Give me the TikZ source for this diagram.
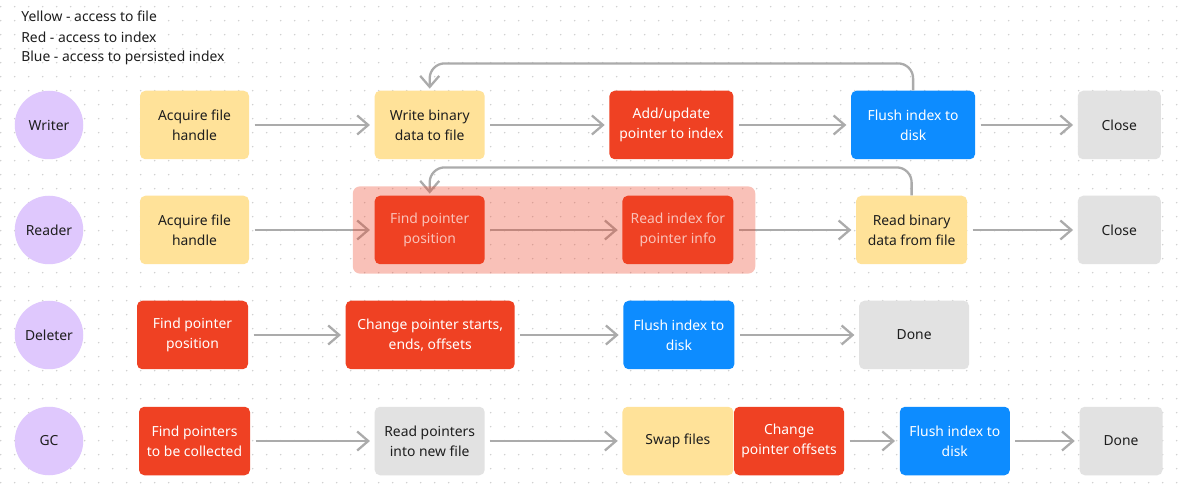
\documentclass[tikz,border=0pt]{standalone}
\usepackage{fontspec}
\setmainfont{Noto Sans}
\usetikzlibrary{arrows.meta,positioning,fit}
\definecolor{Paper}{HTML}{FFFFFF}
\definecolor{Dot}{HTML}{CDCDCD}
\definecolor{Ink}{HTML}{1E1E1E}
\definecolor{Wire}{HTML}{ABABAB}
\definecolor{Sand}{HTML}{FFE299}
\definecolor{Tomato}{HTML}{EF4123}
\definecolor{Sky}{HTML}{0D8CFF}
\definecolor{Ash}{HTML}{E2E2E2}
\definecolor{Lilac}{HTML}{DFC8FD}
\tikzset{
  stepbox/.style={rounded corners=3pt,minimum height=1.37cm,minimum width=2.2cm,align=center,font=\fontsize{7.9}{11.6}\selectfont,text=Ink,inner xsep=2pt},
  filebox/.style={stepbox,fill=Sand},
  indexbox/.style={stepbox,fill=Tomato,text=white},
  diskbox/.style={stepbox,fill=Sky,text=white},
  endbox/.style={stepbox,fill=Ash},
  actor/.style={circle,fill=Lilac,minimum size=1.37cm,inner sep=0pt,font=\fontsize{7.9}{11.6}\selectfont,text=Ink},
  line/.style={-{Straight Barb[length=2.2mm,width=3.8mm]},draw=Wire,line width=1.3pt,shorten <=3pt,shorten >=2.5pt},
  legend/.style={anchor=west,font=\fontsize{7.9}{11}\selectfont,text=Ink,inner sep=0pt}
}

\begin{document}
\begin{tikzpicture}
  \useasboundingbox[fill=Paper] (0,0) rectangle (23.72,-9.82);
  % dotted canvas
  \foreach \i in {0,...,84}
    \foreach \j in {0,...,34}
      \fill[Dot] (0.014+\i*0.28,-0.134-\j*0.28) circle (0.016);

  \node[legend] (key1) at (0.42,-0.32) {Yellow - access to file};
  \node[legend] (key2) at (0.42,-0.74) {Red - access to index};
  \node[legend] (key3) at (0.42,-1.16) {Blue - access to persisted index};

  % writer
  \node[actor] (writer) at (0.98,-2.5) {Writer};
  \node[filebox,minimum width=2.18cm] (wacquire) at (3.89,-2.5) {Acquire file\\handle};
  \node[filebox,right=2.5cm of wacquire] (wwrite) {Write binary\\data to file};
  \node[indexbox,minimum width=2.48cm,right=2.48cm of wwrite] (wadd) {Add/update\\pointer to index};
  \node[diskbox,minimum width=2.48cm,right=2.34cm of wadd] (wflush) {Flush index to\\disk};
  \node[endbox,minimum width=1.66cm,right=2.04cm of wflush] (wclose) {Close};
  \draw[line] (wacquire) -- (wwrite);
  \draw[line] (wwrite) -- (wadd);
  \draw[line] (wadd) -- (wflush);
  \draw[line] (wflush) -- (wclose);
  \draw[line,rounded corners=0.3cm,shorten <=0pt,shorten >=1pt] (wflush.north) -- ++(0,0.54) -| (wwrite.north);

  % reader
  \node[actor] (reader) at (0.98,-4.6) {Reader};
  \node[filebox,minimum width=2.18cm] (racquire) at (3.89,-4.6) {Acquire file\\handle};
  \node[indexbox,right=2.5cm of racquire] (rfind) {Find pointer\\position};
  \node[indexbox,minimum width=2.22cm,right=2.74cm of rfind] (rindex) {Read index for\\pointer info};
  \node[filebox,minimum width=2.22cm,right=2.44cm of rindex] (rread) {Read binary\\data from file};
  \node[endbox,minimum width=1.66cm,right=2.2cm of rread] (rclose) {Close};
  \draw[line] (racquire) -- (rfind);
  \draw[line] (rfind) -- (rindex);
  \draw[line] (rindex) -- (rread);
  \draw[line] (rread) -- (rclose);
  \draw[line,rounded corners=0.3cm,shorten <=0pt,shorten >=1pt] (rread.north) -- ++(0,0.56) -| (rfind.north);
  \node[fit=(rfind)(rindex),inner xsep=0.43cm,inner ysep=0.18cm,rounded corners=4pt,fill=Tomato,fill opacity=0.32] (lookup) {};

  % deleter
  \node[actor] (deleter) at (0.98,-6.7) {Deleter};
  \node[indexbox,minimum width=2.22cm] (dfind) at (3.85,-6.7) {Find pointer\\position};
  \node[indexbox,minimum width=3.38cm,right=1.94cm of dfind] (dchange) {Change pointer starts,\\ends, offsets};
  \node[diskbox,minimum width=2.22cm,right=2.16cm of dchange] (dflush) {Flush index to\\disk};
  \node[endbox,right=2.48cm of dflush] (ddone) {Done};
  \draw[line] (dfind) -- (dchange);
  \draw[line] (dchange) -- (dflush);
  \draw[line] (dflush) -- (ddone);

  % gc
  \node[actor] (gc) at (0.98,-8.82) {GC};
  \node[indexbox,minimum width=2.22cm] (gfind) at (3.89,-8.82) {Find pointers\\to be collected};
  \node[endbox,right=2.48cm of gfind] (gread) {Read pointers\\into new file};
  \node[filebox,minimum width=2.22cm,right=2.74cm of gread] (gswap) {Swap files};
  \node[indexbox,right=0cm of gswap] (gchange) {Change\\pointer offsets};
  \node[diskbox,right=1.1cm of gchange] (gflush) {Flush index to\\disk};
  \node[endbox,minimum width=1.66cm,right=1.38cm of gflush] (gdone) {Done};
  \draw[line] (gfind) -- (gread);
  \draw[line] (gread) -- (gswap);
  \draw[line] (gchange) -- (gflush);
  \draw[line] (gflush) -- (gdone);
\end{tikzpicture}
\end{document}
